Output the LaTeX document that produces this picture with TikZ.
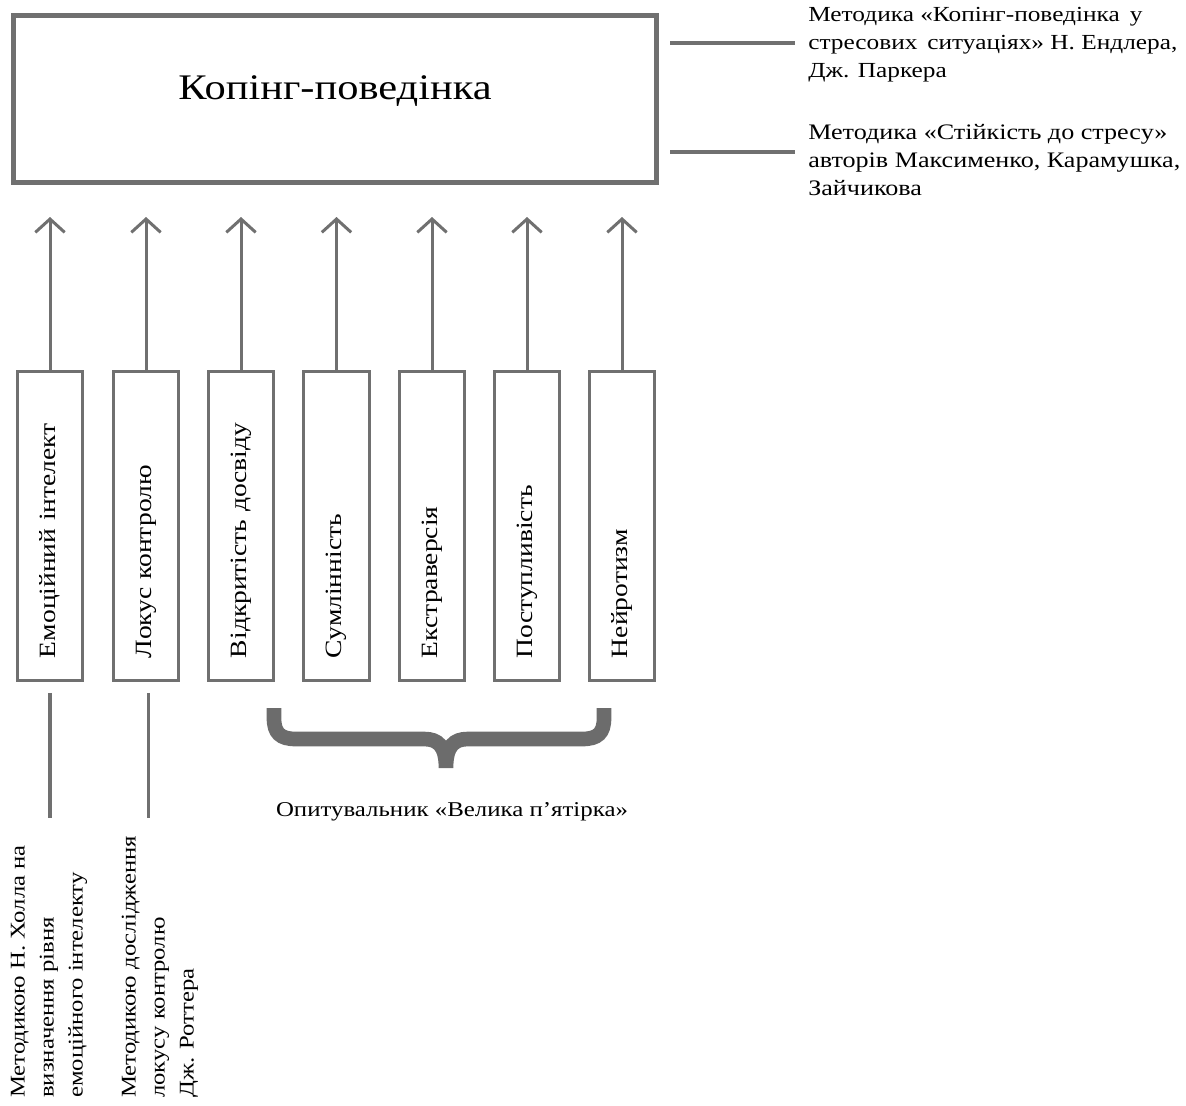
\documentclass[tikz,border=0pt]{standalone}
\usepackage{fontspec}
\setmainfont{Liberation Serif}[FakeStretch=1.18]
\usetikzlibrary{arrows.meta}
\definecolor{framegray}{RGB}{112,112,112}
\definecolor{bracegray}{RGB}{108,108,108}

\begin{document}
\begin{tikzpicture}[x=0.75pt,y=-0.75pt,
    mainbox/.style={draw=framegray,line width=3.5pt,inner sep=0pt,
      minimum width=482pt,minimum height=125.5pt,
      text height=20pt,text depth=20pt,font=\fontsize{27}{33}\selectfont},
    traitbox/.style={draw=framegray,line width=2.25pt,rotate=90,
      inner xsep=17pt,inner ysep=0pt,minimum height=49pt,
      text width=198pt,align=left,font=\fontsize{17.5}{21}\selectfont},
    methnote/.style={inner xsep=9.75pt,inner ysep=0pt,align=left,
      font=\fontsize{16.6}{21}\selectfont},
    sourcenote/.style={rotate=90,inner sep=0pt,align=left,
      font=\fontsize{15.7}{21.75}\selectfont},
    uparrow/.style={draw=framegray,line width=2.25pt,
      -{Straight Barb[length=10pt,width=22pt]}},
    link/.style={draw=framegray,line width=2.5pt},
    bracestroke/.style={draw=bracegray,line width=11pt}]
    \useasboundingbox (0,0) rectangle (1186,1106);

    % top box and the two methods for it
    \node[mainbox] (coping) at (335,99) {Копінг-поведінка};
    \node[methnote,anchor=west,font=\fontsize{16.1}{21}\selectfont] (endler) at (795,45)
      {Методика «Копінг-поведінка\,\ у\\стресових\,\ ситуаціях» Н. Ендлера,\\Дж. Паркера};
    \node[methnote,anchor=west] (stress) at (795,160)
      {Методика «Стійкість до стресу»\\авторів Максименко, Карамушка,\\Зайчикова};
    \coordinate (endlerfoot) at (670,43);
    \coordinate (stressfoot) at (670,152);
    \draw[link] (endlerfoot) -- (endlerfoot -| endler.west);
    \draw[link] (stressfoot) -- (stressfoot -| stress.west);

    % factors
    \node[traitbox] (emo) at (50,526) {Емоційний інтелект};
    \node[traitbox] (locus) at (146,526) {Локус контролю};
    \node[traitbox] (open) at (241,526) {Відкритість досвіду};
    \node[traitbox] (consc) at (336.5,526) {Сумлінність};
    \node[traitbox] (extra) at (432,526) {Екстраверсія};
    \node[traitbox] (agree) at (527,526) {Поступливість};
    \node[traitbox] (neuro) at (622,526) {Нейротизм};

    \draw[uparrow,shorten >=24pt] (emo.east) -- (emo.east |- coping.south);
    \draw[uparrow,shorten >=24pt] (locus.east) -- (locus.east |- coping.south);
    \draw[uparrow,shorten >=24pt] (open.east) -- (open.east |- coping.south);
    \draw[uparrow,shorten >=24pt] (consc.east) -- (consc.east |- coping.south);
    \draw[uparrow,shorten >=24pt] (extra.east) -- (extra.east |- coping.south);
    \draw[uparrow,shorten >=24pt] (agree.east) -- (agree.east |- coping.south);
    \draw[uparrow,shorten >=24pt] (neuro.east) -- (neuro.east |- coping.south);

    % methods below
    \node[sourcenote,anchor=west] (hall) at (49,1098)
      {Методикою Н. Холла на\\визначення рівня\\емоційного інтелекту};
    \node[sourcenote,anchor=west] (rotter) at (160,1098)
      {Методикою дослідження\\локусу контролю\\Дж. Роттера};
    \draw[link,shorten <=8pt,shorten >=20pt] (emo.west) -- (emo.west |- hall.east);
    \draw[link,shorten <=8pt,shorten >=13pt] ([xshift=2pt]locus.west) -- ([xshift=2pt]locus.west |- rotter.east);

    % brace for the big five
    \draw[bracestroke] (274,708) -- (274,718) .. controls (274,733) and (280,739) .. (296,739)
      -- (424,739) .. controls (438,739) and (446,746) .. (446,768)
      .. controls (446,746) and (454,739) .. (468,739)
      -- (582,739) .. controls (598,739) and (604,733) .. (604,718) -- (604,708);
    \node[font=\fontsize{15.8}{19}\selectfont] (bigfive) at (452,812) {Опитувальник «Велика п’ятірка»};
\end{tikzpicture}
\end{document}
